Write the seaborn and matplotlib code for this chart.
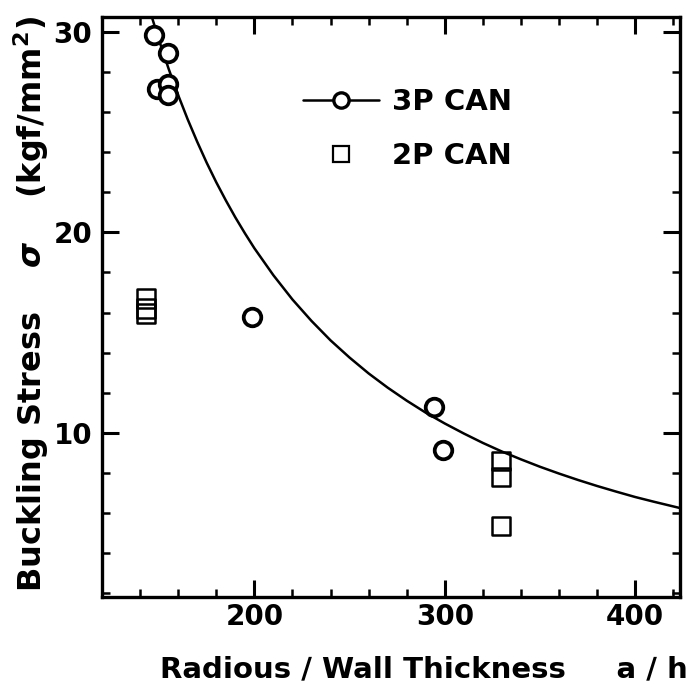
import matplotlib
matplotlib.use("Agg")
import matplotlib.pyplot as plt
from matplotlib.lines import Line2D
from matplotlib.ticker import MultipleLocator
import seaborn as sns
import pandas as pd

# ---- data ----
p3_x = [147.1, 154.7, 148.9, 154.8, 154.8, 198.9, 294.4, 298.8]
p3_y = [29.85, 28.94, 27.14, 27.40, 26.86, 15.77, 11.28, 9.15]

p2_x = [143.3, 143.3, 143.3, 329.3, 329.3, 329.3]
p2_y = [16.70, 16.20, 15.95, 8.60, 7.79, 5.36]

curve_x = [146.3, 150, 155, 160, 165, 170, 175, 180, 185, 190, 195, 200, 210, 220,
           230, 240, 250, 260, 270, 280, 290, 300, 310, 320, 330, 340, 350, 360,
           370, 380, 390, 400, 410, 423.5]
curve_y = [30.71, 29.58, 28.16, 26.85, 25.64, 24.52, 23.47, 22.50, 21.60, 20.75, 19.96,
           19.21, 17.86, 16.65, 15.58, 14.61, 13.75, 12.96, 12.25, 11.60, 11.00, 10.46,
           9.96, 9.49, 9.06, 8.67, 8.30, 7.96, 7.64, 7.34, 7.06, 6.79, 6.55, 6.24]

x_ticks = [200, 300, 400]
y_ticks = [10, 20, 30]
legend_labels = ["3P CAN", "2P CAN"]

sns.set_theme(style="white")
plt.rcParams["font.family"] = ["DejaVu Sans"]
plt.rcParams["font.weight"] = "bold"
plt.rcParams["mathtext.fontset"] = "dejavusans"
plt.rcParams["text.color"] = "black"
plt.rcParams["axes.labelcolor"] = "black"
plt.rcParams["xtick.color"] = "black"
plt.rcParams["ytick.color"] = "black"

fig = plt.figure(figsize=(7.0, 6.9), dpi=100)
ax = fig.add_axes([102 / 700, 1 - 597 / 690, (680 - 102) / 700, (597 - 17) / 690])

curve_df = pd.DataFrame({"x": curve_x, "y": curve_y})
sns.lineplot(data=curve_df, x="x", y="y", ax=ax, color="black", linewidth=1.8,
             sort=False, estimator=None)

p3_df = pd.DataFrame({"x": p3_x, "y": p3_y})
sns.scatterplot(data=p3_df, x="x", y="y", ax=ax, marker="o", s=160,
                facecolor="white", edgecolor="black", linewidth=2.7, zorder=5)
p2_df = pd.DataFrame({"x": p2_x, "y": p2_y})
sns.scatterplot(data=p2_df, x="x", y="y", ax=ax, marker="s", s=170,
                facecolor="none", edgecolor="black", linewidth=1.8, zorder=5)

ax.set_xlim(120, 423.5)
ax.set_ylim(1.8, 30.75)
ax.set_xticks(x_ticks)
ax.set_yticks(y_ticks)
ax.xaxis.set_minor_locator(MultipleLocator(20))
ax.yaxis.set_minor_locator(MultipleLocator(2))
ax.tick_params(which="both", direction="in", top=True, right=True, bottom=True, left=True,
               color="black", labelcolor="black", labelsize=20)
ax.tick_params(which="major", length=12, width=2.2)
ax.tick_params(axis="x", which="major", pad=4)
ax.tick_params(axis="y", which="major", pad=7)
ax.tick_params(which="minor", length=6, width=1.8)
for lab in ax.get_xticklabels() + ax.get_yticklabels():
    lab.set_fontweight("bold")
for s in ax.spines.values():
    s.set_linewidth(2.4)
    s.set_color("black")

ax.set_xlabel("Radious ∕ Wall Thickness     a ∕ h", fontsize=21, fontweight="bold",
              color="black")
ax.xaxis.set_label_coords((424 - 102) / 578, -(669 - 597) / 580)
ax.xaxis.label.set_va("center")
ax.set_ylabel(r"Buckling Stress    $\sigma$    (kgf/mm$^2$)", fontsize=23,
              fontweight="bold", color="black")
ax.yaxis.set_label_coords(-(102 - 31) / 578, (597 - 304) / 580)
ax.yaxis.label.set_va("center")

handles = [
    Line2D([], [], color="black", linewidth=1.8, marker="o", markersize=11,
           markerfacecolor="white", markeredgecolor="black", markeredgewidth=2.4),
    Line2D([], [], color="none", marker="s", markersize=11, linestyle="none",
           markerfacecolor="none", markeredgecolor="black", markeredgewidth=1.6),
]
leg = ax.legend(handles, legend_labels, loc="upper left", frameon=False,
                bbox_to_anchor=(303 / 700, 1 - 88 / 690), bbox_transform=fig.transFigure,
                borderpad=0, borderaxespad=0, handlelength=2.6, handletextpad=0.45,
                labelspacing=0.9, prop={"size": 21, "weight": "bold"})
for t in leg.get_texts():
    t.set_color("black")

fig.savefig("out.png", dpi=100)
